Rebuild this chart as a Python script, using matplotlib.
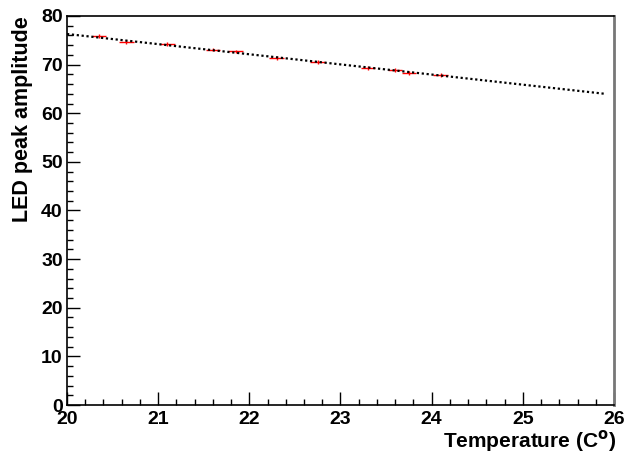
"""LED peak amplitude versus temperature, ROOT-like style."""
import matplotlib

matplotlib.use("Agg")
import matplotlib.pyplot as plt
from matplotlib.ticker import MultipleLocator

plt.rcParams.update(
    {
        "font.family": ["Liberation Sans", "DejaVu Sans"],
        "font.weight": "bold",
        "font.size": 14,
    }
)

temp = [20.35, 20.65, 21.1, 21.6, 21.85, 22.3, 22.75, 23.3, 23.6, 23.75, 24.1]
amp = [75.8, 74.7, 74.2, 73.1, 72.7, 71.4, 70.5, 69.3, 68.9, 68.3, 67.8]
temp_err = [0.08, 0.08, 0.08, 0.08, 0.08, 0.08, 0.08, 0.08, 0.08, 0.08, 0.08]
amp_err = [0.4, 0.4, 0.4, 0.4, 0.4, 0.4, 0.4, 0.4, 0.4, 0.4, 0.4]

# linear fit endpoints
fit_x = [20.0, 25.9]
fit_y = [76.3, 64.0]

fig = plt.figure(figsize=(6.24, 4.54), dpi=100)
ax = fig.add_axes([67 / 624, 49 / 454, 547 / 624, 389 / 454])

ax.errorbar(temp, amp, xerr=temp_err, yerr=amp_err, fmt="none",
            ecolor="#ff0000", elinewidth=1.0, capsize=0)
ax.plot(fit_x, fit_y, color="black", linestyle=(0, (1, 1.2)), linewidth=1.6)

ax.set_xlim(20, 26)
ax.set_ylim(0, 80)
ax.xaxis.set_major_locator(MultipleLocator(1))
ax.xaxis.set_minor_locator(MultipleLocator(0.2))
ax.yaxis.set_major_locator(MultipleLocator(10))
ax.yaxis.set_minor_locator(MultipleLocator(2))
ax.tick_params(which="both", direction="in", top=False, right=False, width=1.0)
ax.tick_params(which="major", length=9.5, labelsize=14)
ax.tick_params(which="minor", length=4.5)
ax.tick_params(axis="x", pad=4)
ax.tick_params(axis="y", pad=3)

for s in ax.spines.values():
    s.set_linewidth(1.2)
ax.spines["right"].set_color("#777777")
ax.spines["right"].set_linewidth(2)

ax.set_xlabel("Temperature (C$^{\\mathbf{o}}$)", fontsize=15, fontweight="bold",
              ha="right", x=1.004, labelpad=0)
ax.set_ylabel("LED peak amplitude", fontsize=15.5, fontweight="bold",
              ha="right", y=1.0, labelpad=6)

fig.savefig("out.png", dpi=100, facecolor="white")
